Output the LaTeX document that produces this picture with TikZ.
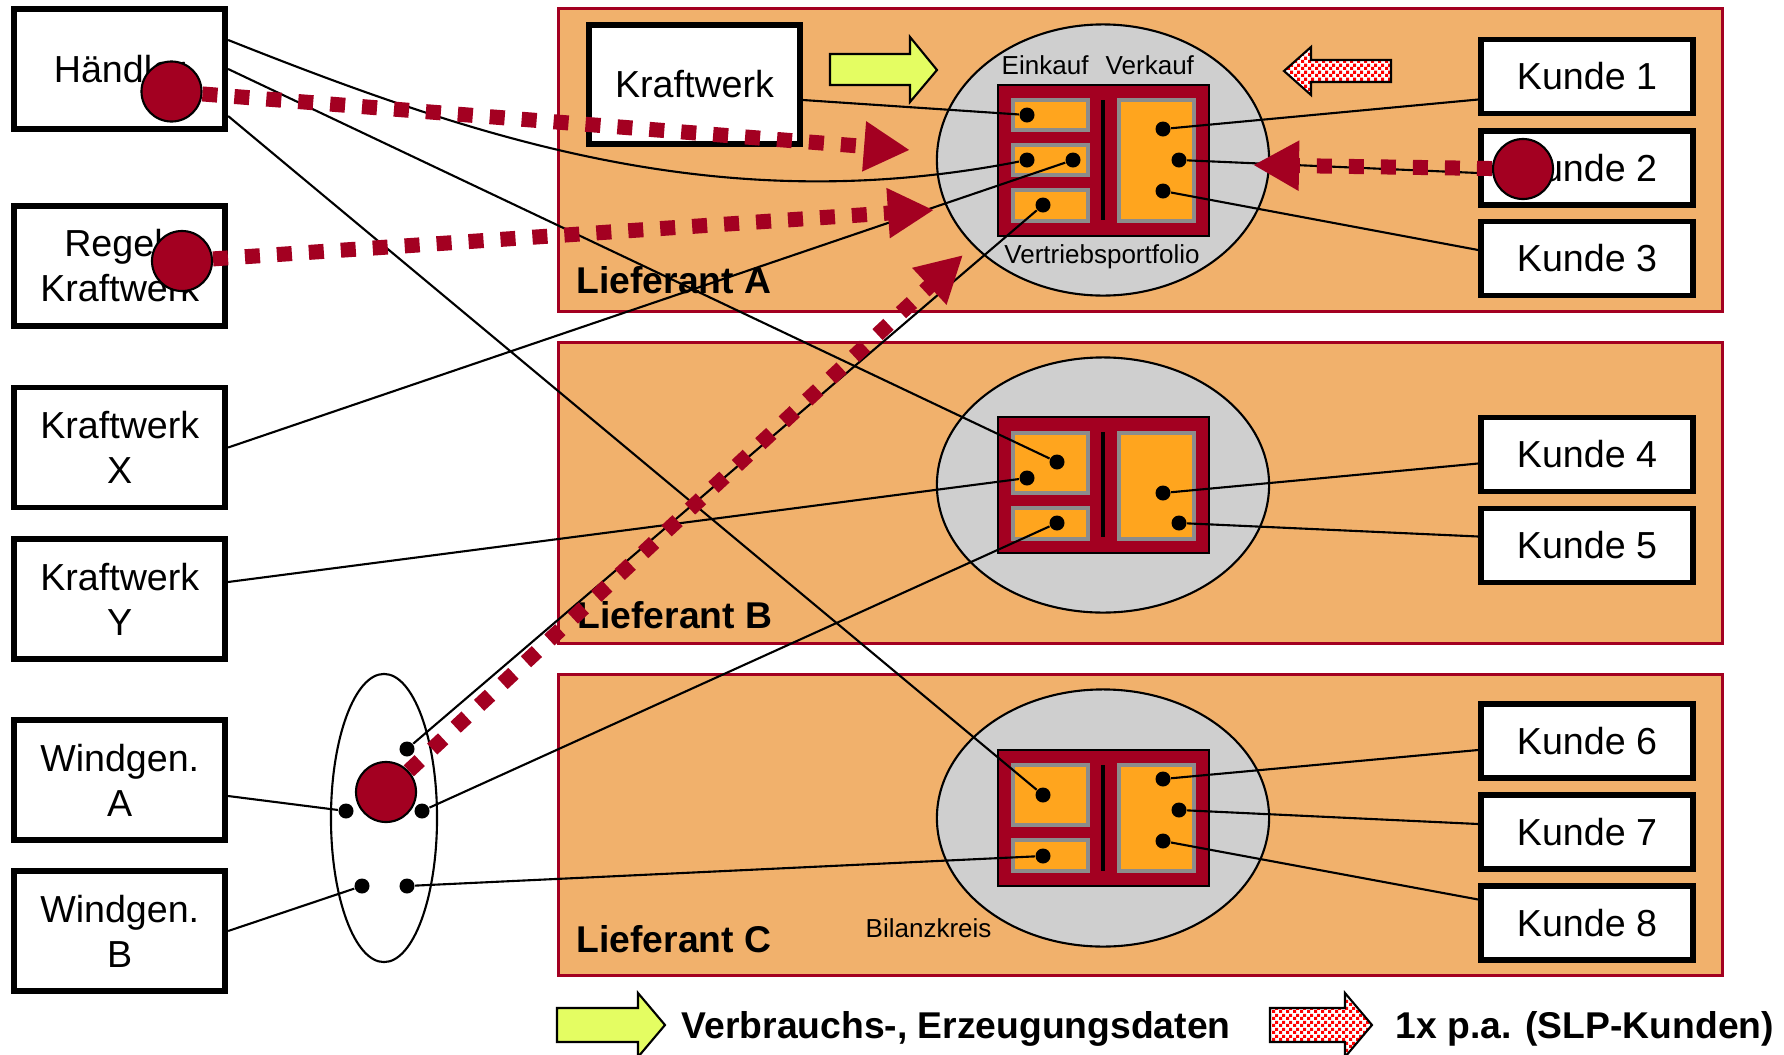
\documentclass[tikz,border=0pt]{standalone}
\usepackage{fontspec}
\setmainfont{Liberation Sans}
\usepackage{tikz}
\usetikzlibrary{shapes.geometric,arrows.meta,patterns}

\definecolor{lieferorange}{RGB}{241,177,108}
\definecolor{dunkelrot}{RGB}{163,0,33}
\definecolor{fachorange}{RGB}{255,165,30}
\definecolor{kreisgrau}{RGB}{207,207,207}
\definecolor{rahmengrau}{RGB}{140,140,140}
\definecolor{datengelb}{RGB}{228,253,98}

\pgfdeclarepatternformonly{feinkaro}{\pgfqpoint{0pt}{0pt}}{\pgfqpoint{2pt}{2pt}}{\pgfqpoint{2pt}{2pt}}{%
  \pgfpathrectangle{\pgfqpoint{0pt}{0pt}}{\pgfqpoint{1pt}{1pt}}%
  \pgfpathrectangle{\pgfqpoint{1pt}{1pt}}{\pgfqpoint{1pt}{1pt}}%
  \pgfusepath{fill}}

\begin{document}
\begin{tikzpicture}[x=0.01cm, y=-0.01cm,
    teilnehmer/.style={draw, line width=1.6pt, fill=white, inner sep=0pt, align=center,
      minimum width=2.11cm, minimum height=1.20cm, font=\fontsize{10.7}{12.8}\selectfont},
    kunde/.style={teilnehmer, minimum width=2.12cm, minimum height=0.74cm},
    lieferant/.style={draw=dunkelrot, line width=0.8pt, fill=lieferorange, inner sep=0pt, minimum width=11.64cm},
    bilanzkreis/.style={ellipse, draw, line width=0.6pt, fill=kreisgrau, inner sep=0pt},
    portfolio/.style={draw, line width=0.7pt, fill=dunkelrot, inner sep=0pt, minimum width=2.11cm},
    fach/.style={draw=rahmengrau, line width=1.1pt, fill=fachorange, inner sep=0pt, minimum width=0.75cm},
    punkt/.style={circle, fill=black, inner sep=0pt, minimum size=0.15cm},
    zaehler/.style={circle, draw, line width=0.6pt, fill=dunkelrot, inner sep=0pt, minimum size=0.6cm},
    titel/.style={anchor=base west, inner sep=0pt, font=\bfseries\fontsize{10.6}{12}\selectfont},
    klein/.style={inner sep=0pt, font=\fontsize{7.4}{9}\selectfont},
    leitung/.style={line width=0.6pt},
    messpfad/.style={dunkelrot, line width=0.15cm, dash pattern=on 0.15cm off 0.17cm,
      -{Triangle[length=0.46cm, width=0.47cm]}},
    gelbpfeil/.style={draw, line width=0.6pt, fill=datengelb},
    slppfeil/.style={draw, line width=0.6pt, preaction={fill=white}, pattern=feinkaro, pattern color=red}
]
\useasboundingbox (0,0) rectangle (1784,1054);

% --- Lieferanten ---
\node[lieferant, minimum height=3.03cm] (liefA) at (1140.5,160) {};
\node[lieferant, minimum height=3.01cm] (liefB) at (1140.5,493) {};
\node[lieferant, minimum height=3.01cm] (liefC) at (1140.5,825) {};
\node[titel] (nameA) at (576,293) {Lieferant A};
\node[titel] (nameB) at (577,628) {Lieferant B};
\node[titel] (nameC) at (576,952) {Lieferant C};

% --- Bilanzkreise ---
\node[bilanzkreis, minimum width=3.32cm, minimum height=2.71cm] (bkA) at (1103,160) {};
\node[bilanzkreis, minimum width=3.32cm, minimum height=2.55cm] (bkB) at (1103,485) {};
\node[bilanzkreis, minimum width=3.32cm, minimum height=2.57cm] (bkC) at (1103,818) {};
\node[klein, anchor=base west] (einkauf) at (1001,74) {Einkauf};
\node[klein, anchor=base west] (verkauf) at (1105,74) {Verkauf};
\node[klein, anchor=base] (vertrieb) at (1102,263) {Vertriebsportfolio};
\node[klein, anchor=base west] (bilanz) at (865,937) {Bilanzkreis};

% --- Portfolios ---
\node[portfolio, minimum height=1.51cm] (portA) at (1103.5,160.5) {};
\node[fach, minimum height=0.30cm] (eA1) at (1050.5,115) {};
\node[fach, minimum height=0.30cm] (eA2) at (1050.5,160) {};
\node[fach, minimum height=0.31cm] (eA3) at (1050.5,205.5) {};
\node[fach, minimum height=1.21cm] (vA) at (1156.5,160.5) {};
\draw[line width=0.9pt] (1103,100) -- (1103,220);

\node[portfolio, minimum height=1.36cm] (portB) at (1103.5,485) {};
\node[fach, minimum height=0.60cm] (eB1) at (1050.5,463) {};
\node[fach, minimum height=0.31cm] (eB2) at (1050.5,523.5) {};
\node[fach, minimum height=1.06cm] (vB) at (1156.5,486) {};
\draw[line width=0.9pt] (1103,432) -- (1103,537);

\node[portfolio, minimum height=1.36cm] (portC) at (1103.5,818) {};
\node[fach, minimum height=0.60cm] (eC1) at (1050.5,795) {};
\node[fach, minimum height=0.31cm] (eC2) at (1050.5,855.5) {};
\node[fach, minimum height=1.06cm] (vC) at (1156.5,818) {};
\draw[line width=0.9pt] (1103,765) -- (1103,871);

% --- Datenpfeile ---
\draw[gelbpfeil] (830,54) -- (910,54) -- (910,37) -- (937,70) -- (910,102) -- (910,85) -- (830,85) -- cycle;
\draw[slppfeil] (1391,60) -- (1311,60) -- (1311,47) -- (1284,71) -- (1311,95) -- (1311,82) -- (1391,82) -- cycle;

% --- Erzeuger, Haendler ---
\node[teilnehmer] (haendler) at (119.75,69) {Händler};
\node[teilnehmer] (regel) at (119.75,266) {Regel-\\Kraftwerk};
\node[teilnehmer] (kwx) at (119.75,447.5) {Kraftwerk\\X};
\node[teilnehmer] (kwy) at (119.75,599) {Kraftwerk\\Y};
\node[teilnehmer] (winda) at (119.75,780) {Windgen.\\A};
\node[teilnehmer] (windb) at (119.75,931) {Windgen.\\B};
\node[teilnehmer, minimum height=1.19cm] (kwA) at (694.5,84.5) {Kraftwerk};
\node[draw, ellipse, line width=0.6pt, fill=white, inner sep=0pt,
  minimum width=1.06cm, minimum height=2.88cm] (pool) at (384,818) {};

% --- Kunden ---
\node[kunde] (kunde1) at (1587,76.5) {Kunde 1};
\node[kunde] (kunde2) at (1587,168) {Kunde 2};
\node[kunde] (kunde3) at (1587,258.5) {Kunde 3};
\node[kunde] (kunde4) at (1587,454.5) {Kunde 4};
\node[kunde] (kunde5) at (1587,545.5) {Kunde 5};
\node[kunde] (kunde6) at (1587,741) {Kunde 6};
\node[kunde] (kunde7) at (1587,832) {Kunde 7};
\node[kunde] (kunde8) at (1587,923) {Kunde 8};

% --- Punkte ---
\node[punkt] (pa1) at (1027,115) {};
\node[punkt] (pa2) at (1027,160) {};
\node[punkt] (pa3) at (1073,160) {};
\node[punkt] (pa4) at (1043,205) {};
\node[punkt] (pa5) at (1163,129) {};
\node[punkt] (pa6) at (1179,160) {};
\node[punkt] (pa7) at (1163,191) {};
\node[punkt] (pb1) at (1057,462) {};
\node[punkt] (pb2) at (1027,478) {};
\node[punkt] (pb3) at (1057,523) {};
\node[punkt] (pb4) at (1163,493) {};
\node[punkt] (pb5) at (1179,523) {};
\node[punkt] (pc1) at (1043,795) {};
\node[punkt] (pc2) at (1043,856) {};
\node[punkt] (pc3) at (1163,779) {};
\node[punkt] (pc4) at (1179,810) {};
\node[punkt] (pc5) at (1163,841) {};
\node[punkt] (w1) at (407,749) {};
\node[punkt] (w2) at (346,811) {};
\node[punkt] (w3) at (422,811) {};
\node[punkt] (w4) at (362,886) {};
\node[punkt] (w5) at (407,886) {};

% --- Leitungen ---
\draw[leitung] ([yshift=0.29cm]haendler.east) .. controls (480,140) and (720,220) .. (pa2);
\draw[leitung] (haendler.east) -- (pb1);
\draw[leitung] ([yshift=-0.47cm]haendler.east) -- (pc1);
\draw[leitung] ([yshift=-0.155cm]kwA.east) -- (pa1);
\draw[leitung] (kwx.east) -- (pa3);
\draw[leitung] ([yshift=0.17cm]kwy.east) -- (pb2);
\draw[leitung] ([yshift=-0.16cm]winda.east) -- (w2);
\draw[leitung] (windb.east) -- (w4);
\draw[leitung] (w1) -- (pa4);
\draw[leitung] (w3) -- (pb3);
\draw[leitung] (w5) -- (pc2);
\draw[leitung] (pa5) -- ([yshift=-0.23cm]kunde1.west);
\draw[leitung] (pa6) -- ([yshift=-0.05cm]kunde2.west);
\draw[leitung] (pa7) -- ([yshift=0.085cm]kunde3.west);
\draw[leitung] (pb4) -- ([yshift=-0.09cm]kunde4.west);
\draw[leitung] (pb5) -- ([yshift=0.09cm]kunde5.west);
\draw[leitung] (pc3) -- ([yshift=-0.09cm]kunde6.west);
\draw[leitung] (pc4) -- ([yshift=0.08cm]kunde7.west);
\draw[leitung] (pc5) -- ([yshift=0.235cm]kunde8.west);

% --- Messwerte ---
\node[zaehler] (zH) at (171.5,91.5) {};
\node[zaehler] (zR) at (182,261) {};
\node[zaehler] (zW) at (386,792) {};
\node[zaehler] (zK) at (1523,169) {};
\coordinate (spitzeH) at (910,150);
\coordinate (spitzeR) at (934,210);
\coordinate (spitzeW) at (963,255);
\coordinate (spitzeK) at (1253,165);
\draw[messpfad] (zH) -- (spitzeH);
\draw[messpfad] (zR) -- (spitzeR);
\draw[messpfad] (zW) -- (spitzeW);
\draw[messpfad] (zK) -- (spitzeK);

% --- Legende ---
\draw[gelbpfeil] (557,1008) -- (638,1008) -- (638,993) -- (665,1025) -- (638,1057) -- (638,1042) -- (557,1042) -- cycle;
\node[titel] (legdaten) at (681,1038) {Verbrauchs-, Erzeugungsdaten};
\draw[slppfeil] (1270,1008) -- (1345,1008) -- (1345,993) -- (1372,1025) -- (1345,1057) -- (1345,1042) -- (1270,1042) -- cycle;
\node[titel] (legslp) at (1395,1038) {1x p.a. (SLP-Kunden)};

\end{tikzpicture}
\end{document}
